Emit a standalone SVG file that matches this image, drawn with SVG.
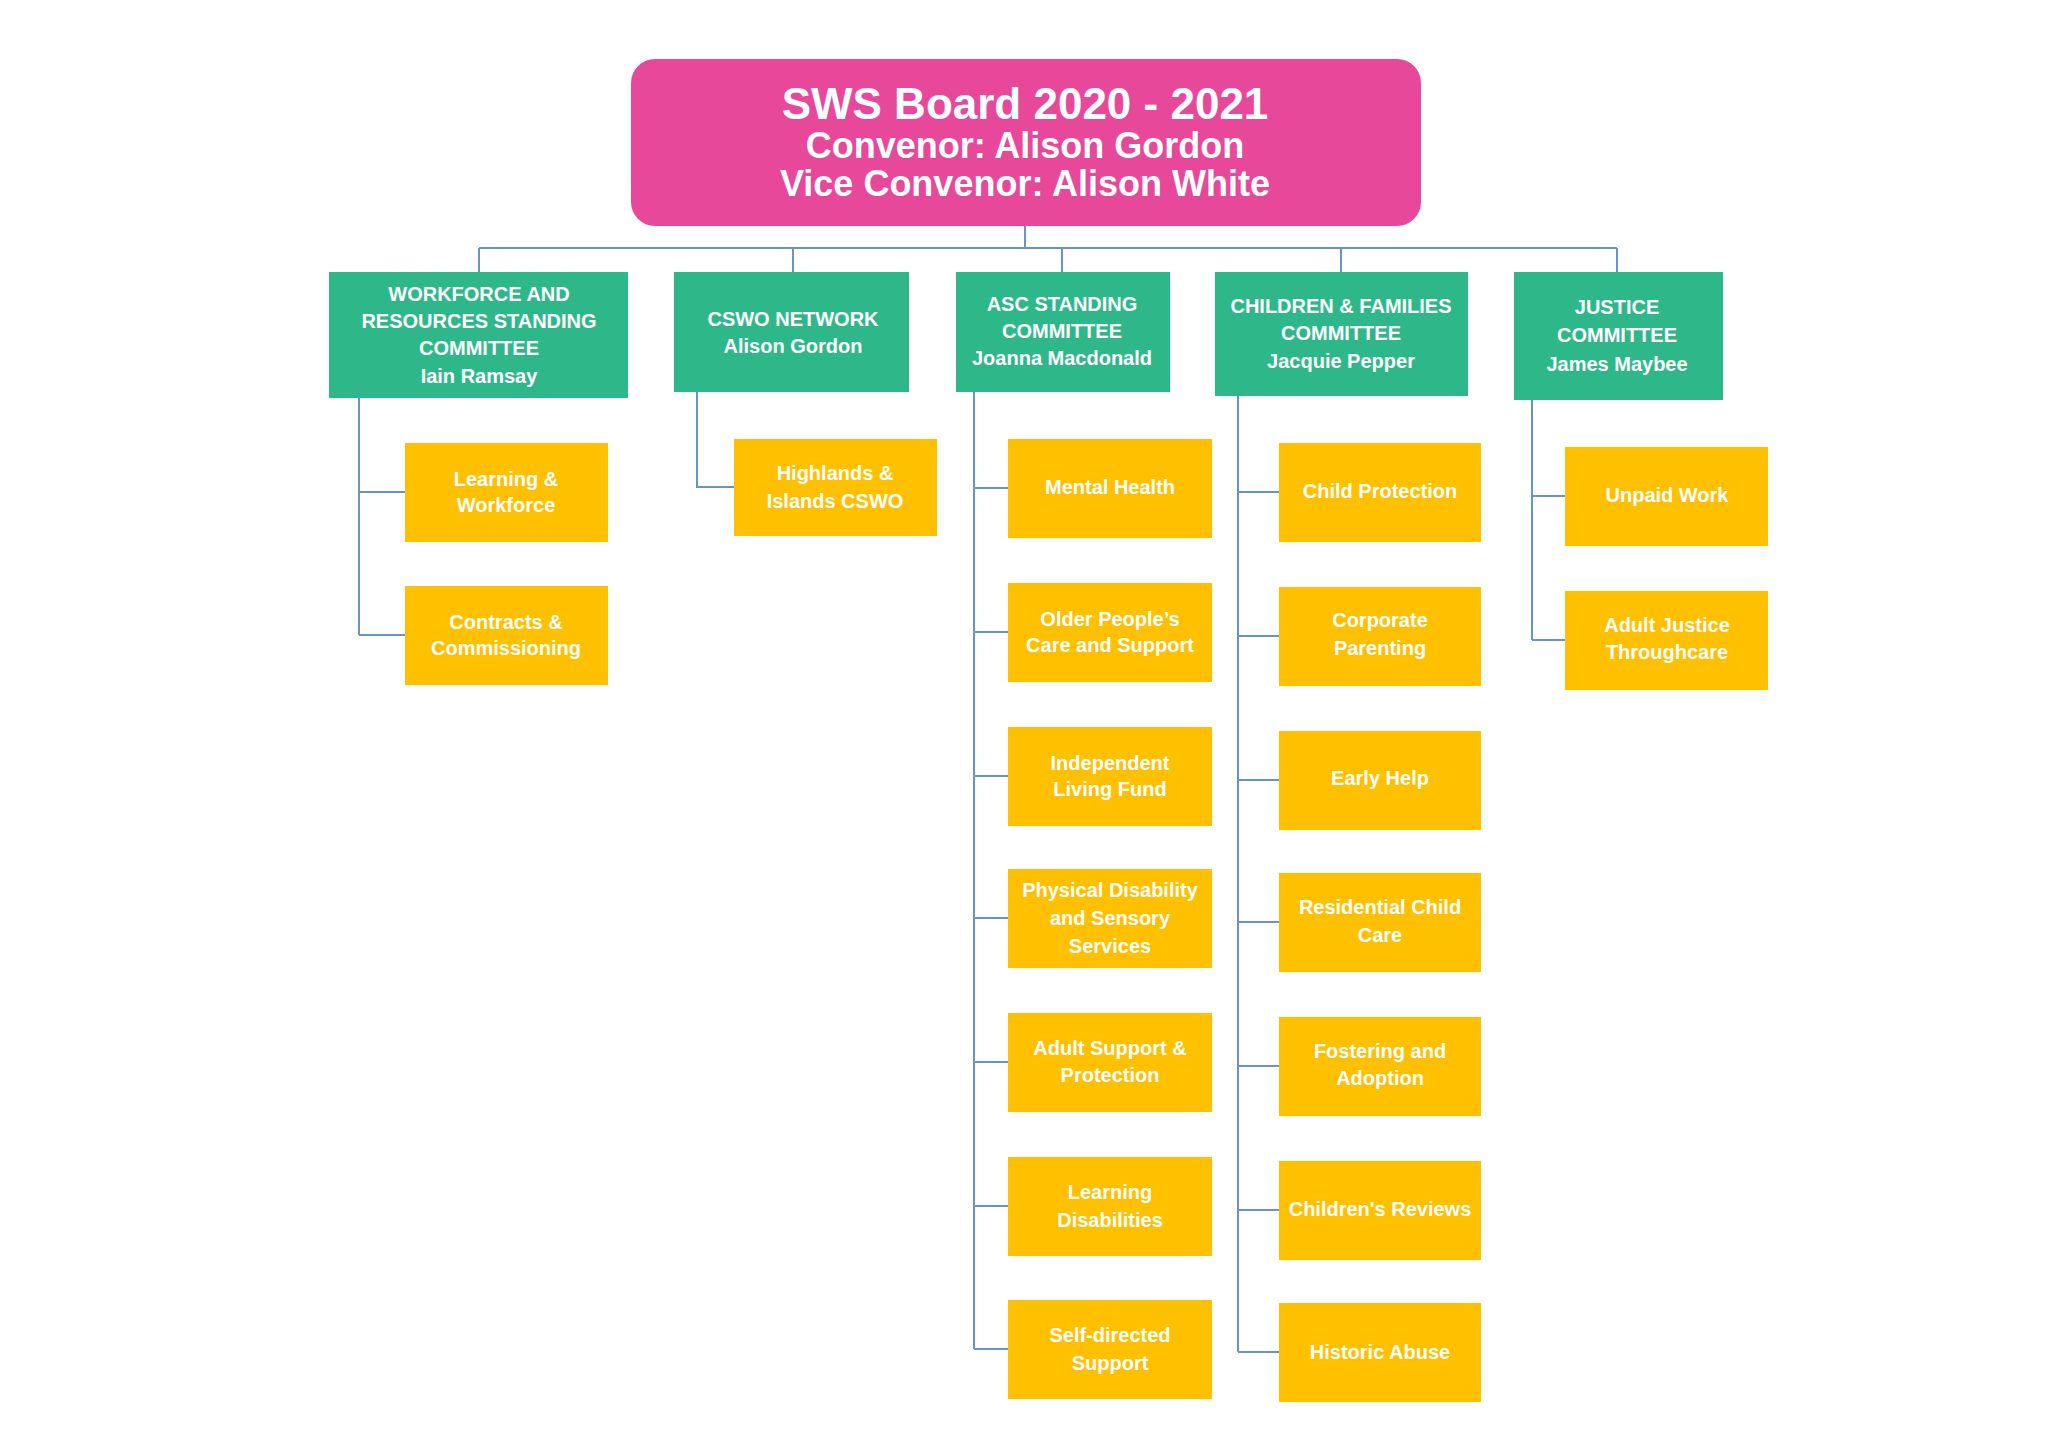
<svg xmlns="http://www.w3.org/2000/svg" width="2048" height="1444" viewBox="0 0 2048 1444">
<style>
.g{fill:#2EB88A}.y{fill:#FFC000}
.gt{font-family:"Liberation Sans",Arial,sans-serif;font-weight:bold;font-size:20px;fill:#fff;text-anchor:middle}
.yt{font-family:"Liberation Sans",Arial,sans-serif;font-weight:bold;font-size:20px;fill:#fff;text-anchor:middle}
.tt{font-family:"Liberation Sans",Arial,sans-serif;font-weight:bold;fill:#fff;text-anchor:middle}
.c{stroke:#6A93C8;stroke-width:2;fill:none}
</style>
<rect width="2048" height="1444" fill="#fff"/>
<g id="connectors" class="c">
<path d="M1025 226V248M479 248H1617M479 248V272M793 248V272M1062 248V272M1341 248V272M1617 248V272"/>
<path d="M359 398V635M359 492H405M359 635H405"/>
<path d="M697 392V487H734"/>
<path d="M974 392V1349M974 488H1008M974 632H1008M974 776H1008M974 918H1008M974 1062H1008M974 1206H1008M974 1349H1008"/>
<path d="M1238 396V1352M1238 492H1279M1238 636H1279M1238 780H1279M1238 922H1279M1238 1066H1279M1238 1210H1279M1238 1352H1279"/>
<path d="M1532 400V640M1532 496H1565M1532 640H1565"/>
</g>
<g id="board"><rect x="631" y="59" width="790" height="167" rx="24" fill="#E8489A"/>
<text class="tt" x="1025" y="119" font-size="44">SWS Board 2020 - 2021</text>
<text class="tt" x="1025" y="158" font-size="36">Convenor: Alison Gordon</text>
<text class="tt" x="1025" y="196" font-size="36">Vice Convenor: Alison White</text></g>
<g id="wf"><rect class="g" x="329" y="272" width="299" height="126"/><text class="gt" x="479" y="301">WORKFORCE AND</text><text class="gt" x="479" y="328">RESOURCES STANDING</text><text class="gt" x="479" y="355">COMMITTEE</text><text class="gt" x="479" y="383">Iain Ramsay</text></g>
<g id="cswo"><rect class="g" x="674" y="272" width="235" height="120"/><text class="gt" x="793" y="326">CSWO NETWORK</text><text class="gt" x="793" y="353">Alison Gordon</text></g>
<g id="asc"><rect class="g" x="956" y="272" width="214" height="120"/><text class="gt" x="1062" y="311">ASC STANDING</text><text class="gt" x="1062" y="338">COMMITTEE</text><text class="gt" x="1062" y="365">Joanna Macdonald</text></g>
<g id="cf"><rect class="g" x="1215" y="272" width="253" height="124"/><text class="gt" x="1341" y="313">CHILDREN &amp; FAMILIES</text><text class="gt" x="1341" y="340">COMMITTEE</text><text class="gt" x="1341" y="368">Jacquie Pepper</text></g>
<g id="jus"><rect class="g" x="1514" y="272" width="209" height="128"/><text class="gt" x="1617" y="314">JUSTICE</text><text class="gt" x="1617" y="342">COMMITTEE</text><text class="gt" x="1617" y="371">James Maybee</text></g>
<g id="lw"><rect class="y" x="405" y="443" width="203" height="99"/><text class="yt" x="506" y="486">Learning &amp;</text><text class="yt" x="506" y="512">Workforce</text></g>
<g id="cc"><rect class="y" x="405" y="586" width="203" height="99"/><text class="yt" x="506" y="629">Contracts &amp;</text><text class="yt" x="506" y="655">Commissioning</text></g>
<g id="hi"><rect class="y" x="734" y="439" width="203" height="97"/><text class="yt" x="835" y="480">Highlands &amp;</text><text class="yt" x="835" y="508">Islands CSWO</text></g>
<g id="mh"><rect class="y" x="1008" y="439" width="204" height="99"/><text class="yt" x="1110" y="494">Mental Health</text></g>
<g id="op"><rect class="y" x="1008" y="583" width="204" height="99"/><text class="yt" x="1110" y="626">Older People’s</text><text class="yt" x="1110" y="652">Care and Support</text></g>
<g id="ilf"><rect class="y" x="1008" y="727" width="204" height="99"/><text class="yt" x="1110" y="770">Independent</text><text class="yt" x="1110" y="796">Living Fund</text></g>
<g id="pd"><rect class="y" x="1008" y="869" width="204" height="99"/><text class="yt" x="1110" y="897">Physical Disability</text><text class="yt" x="1110" y="925">and Sensory</text><text class="yt" x="1110" y="953">Services</text></g>
<g id="as"><rect class="y" x="1008" y="1013" width="204" height="99"/><text class="yt" x="1110" y="1055">Adult Support &amp;</text><text class="yt" x="1110" y="1082">Protection</text></g>
<g id="ld"><rect class="y" x="1008" y="1157" width="204" height="99"/><text class="yt" x="1110" y="1199">Learning</text><text class="yt" x="1110" y="1227">Disabilities</text></g>
<g id="sd"><rect class="y" x="1008" y="1300" width="204" height="99"/><text class="yt" x="1110" y="1342">Self-directed</text><text class="yt" x="1110" y="1370">Support</text></g>
<g id="cp"><rect class="y" x="1279" y="443" width="202" height="99"/><text class="yt" x="1380" y="498">Child Protection</text></g>
<g id="cpa"><rect class="y" x="1279" y="587" width="202" height="99"/><text class="yt" x="1380" y="627">Corporate</text><text class="yt" x="1380" y="655">Parenting</text></g>
<g id="eh"><rect class="y" x="1279" y="731" width="202" height="99"/><text class="yt" x="1380" y="785">Early Help</text></g>
<g id="rc"><rect class="y" x="1279" y="873" width="202" height="99"/><text class="yt" x="1380" y="914">Residential Child</text><text class="yt" x="1380" y="942">Care</text></g>
<g id="fa"><rect class="y" x="1279" y="1017" width="202" height="99"/><text class="yt" x="1380" y="1058">Fostering and</text><text class="yt" x="1380" y="1085">Adoption</text></g>
<g id="cr"><rect class="y" x="1279" y="1161" width="202" height="99"/><text class="yt" x="1380" y="1216">Children's Reviews</text></g>
<g id="ha"><rect class="y" x="1279" y="1303" width="202" height="99"/><text class="yt" x="1380" y="1359">Historic Abuse</text></g>
<g id="uw"><rect class="y" x="1565" y="447" width="203" height="99"/><text class="yt" x="1667" y="502">Unpaid Work</text></g>
<g id="aj"><rect class="y" x="1565" y="591" width="203" height="99"/><text class="yt" x="1667" y="632">Adult Justice</text><text class="yt" x="1667" y="659">Throughcare</text></g>
</svg>
